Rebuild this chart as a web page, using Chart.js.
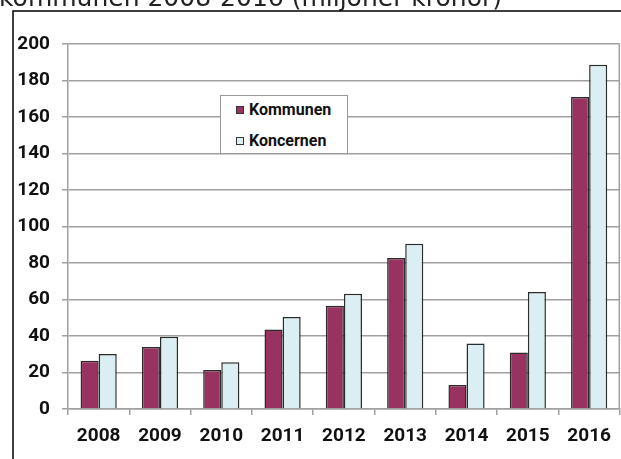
<!DOCTYPE html>
<html>
<head>
<meta charset="utf-8">
<script src="https://cdn.jsdelivr.net/npm/chart.js@4"></script>
<style>
  html, body { margin: 0; padding: 0; background: #fff; }
  #wrap { position: relative; width: 621px; height: 459px; overflow: hidden; }
  #legend {
    position: absolute; left: 220px; top: 95px; width: 126px; height: 57px;
    border: 1px solid #999; background: #fff;
    font-family: Roboto, sans-serif; font-weight: 700; font-size: 16px; color: #111;
  }
  #legend div { position: absolute; left: 15px; height: 18px; line-height: 18px; white-space: nowrap; }
  #legend span.box { display: inline-block; width: 6px; height: 6px; border: 1px solid #333; margin-right: 5px; vertical-align: 1px; }
</style>
</head>
<body>
<div id="wrap">
  <canvas id="chart" width="621" height="459"></canvas>
  <div id="legend"></div>
</div>
<script>
const years = ['2008', '2009', '2010', '2011', '2012', '2013', '2014', '2015', '2016'];
const kommunen = [26.4, 34, 21.4, 43.6, 56.6, 82.8, 13.2, 30.9, 171];
const koncernen = [30.2, 39.6, 25.6, 50.4, 63.2, 90.5, 35.9, 64.1, 188.6];
const titleText = 'kommunen 2008-2016 (miljoner kronor)';

const tickFont = { family: 'Roboto', weight: 'bold', size: 19 };

// title (cut off at the top) and frame lines
const framePlugin = {
    id: 'frame',
    beforeDraw(chart) {
        const ctx = chart.ctx;
        ctx.save();
        ctx.fillStyle = '#222';
        ctx.font = '25px "DejaVu Sans"';
        ctx.textBaseline = 'alphabetic';
        ctx.fillText(titleText, -1, 6);
        ctx.strokeStyle = '#000';
        ctx.lineWidth = 1.5;
        ctx.beginPath();
        ctx.moveTo(13, 459);
        ctx.lineTo(13, 11);
        ctx.lineTo(621, 11);
        ctx.stroke();
        ctx.restore();
    },
    afterDatasetsDraw(chart) {
        const a = chart.chartArea;
        const ctx = chart.ctx;
        ctx.save();
        ctx.strokeStyle = '#a0a0a0';
        ctx.lineWidth = 1.5;
        ctx.beginPath();
        ctx.moveTo(a.right - 0.5, a.top);
        ctx.lineTo(a.right - 0.5, a.bottom);
        ctx.stroke();
        ctx.restore();
    }
};

const data = {
    labels: years,
    datasets: [{
        label: 'Kommunen',
        data: kommunen,
        backgroundColor: 'rgb(152,50,96)',
        borderColor: '#2b2b2b',
        borderWidth: 1.5
    }, {
        label: 'Koncernen',
        data: koncernen,
        backgroundColor: 'rgb(218,238,243)',
        borderColor: '#2b2b2b',
        borderWidth: 1.5
    }]
};

const config = {
    type: 'bar',
    data,
    options: {
        responsive: false,
        animation: false,
        layout: { padding: { left: 14, top: 44, right: 1, bottom: 10 } },
        datasets: { bar: { categoryPercentage: 0.59, barPercentage: 1.0 } },
        plugins: {
            legend: { display: false },
            tooltip: { enabled: false }
        },
        scales: {
            x: {
                grid: { drawOnChartArea: false, drawTicks: true, tickLength: 6, color: '#a0a0a0', lineWidth: 1.5 },
                border: { color: '#a0a0a0', width: 1.5 },
                ticks: { color: '#111', font: tickFont, padding: 10, maxRotation: 0 },
                afterFit(scale) { scale.height = 40; }
            },
            y: {
                min: 0,
                max: 200,
                grid: { color: '#a0a0a0', lineWidth: 1.5, tickLength: 6 },
                border: { color: '#a0a0a0', width: 1.5 },
                ticks: { stepSize: 20, color: '#111', font: tickFont, padding: 12 },
                afterFit(scale) { scale.width = 54; }
            }
        }
    },
    plugins: [framePlugin]
};

const chart1 = new Chart(document.getElementById('chart'), config);

// legend box inside the plot
const legend = document.getElementById('legend');
chart1.data.datasets.forEach((ds, i) => {
    const row = document.createElement('div');
    row.style.top = (5 + i * 31) + 'px';
    row.innerHTML = '<span class="box" style="background:' + ds.backgroundColor + '"></span>' + ds.label;
    legend.appendChild(row);
});
</script>
</body>
</html>
